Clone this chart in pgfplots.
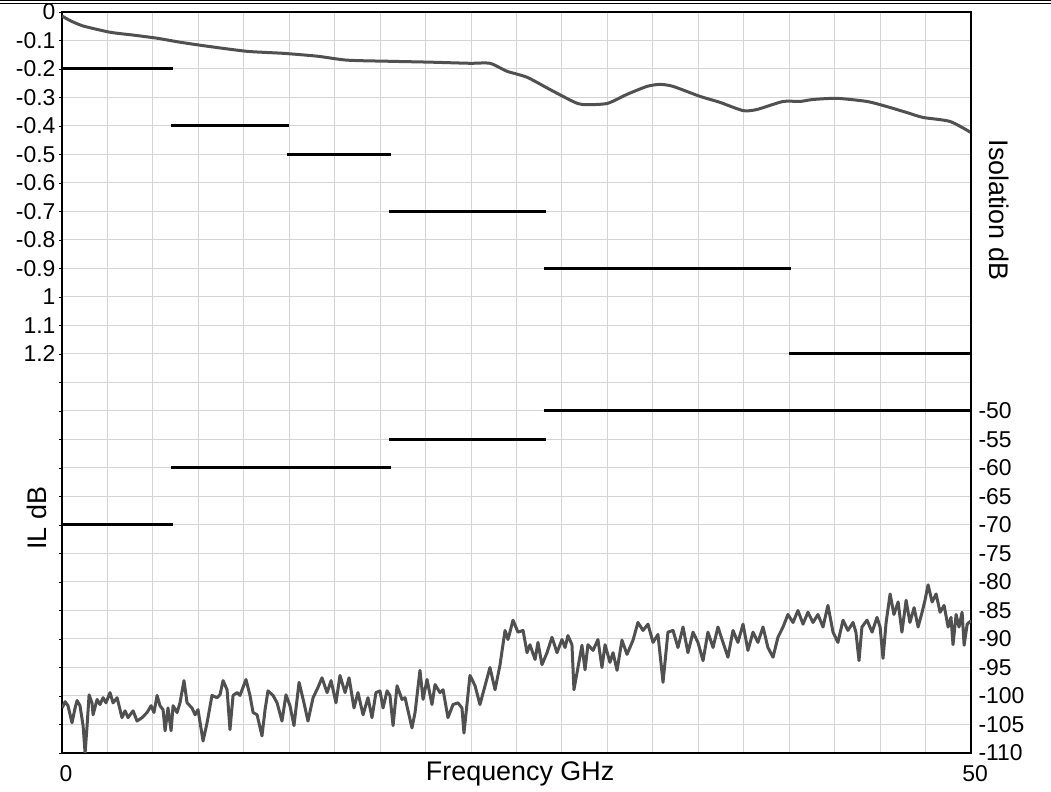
\documentclass[border=0pt]{standalone}
\usepackage{pgfplots}
\pgfplotsset{compat=1.18}
\usepackage{fontspec}
\setmainfont{Liberation Sans}
\definecolor{curve}{RGB}{80,80,80}
\definecolor{gridc}{RGB}{212,212,212}
\begin{document}
\begin{tikzpicture}
\pgfplotsset{
  common/.style={
    at={(62bp,39bp)}, anchor=south west,
    width=909bp, height=741bp, scale only axis,
    xmin=0, xmax=50,
    axis line style={black, line width=2bp},
    tick label style={font=\fontsize{23}{27}\selectfont},
  },
  lim/.style={black, line width=3bp, no marks, forget plot},
  meas/.style={curve, line width=3bp, no marks, line join=round},
}
% ---------- left axis (IL) ----------
\begin{axis}[common,
  ymin=-2.6, ymax=0,
  xtick={0,2.5,5,7.5,10,12.5,15,17.5,20,22.5,25,27.5,30,32.5,35,37.5,40,42.5,45,47.5,50},
  xticklabels={0,{},{},{},{},{},{},{},{},{},{},{},{},{},{},{},{},{},{},{},50},
  xtick style={draw=none},
  xticklabel style={yshift=-6bp, xshift=4bp},
  ytick={-2.6,-2.5,-2.4,-2.3,-2.2,-2.1,-2,-1.9,-1.8,-1.7,-1.6,-1.5,-1.4,-1.3,-1.2,-1.1,-1,-0.9,-0.8,-0.7,-0.6,-0.5,-0.4,-0.3,-0.2,-0.1,0},
  yticklabels={{},{},{},{},{},{},{},{},{},{},{},{},{},{},1.2,1.1,1,-0.9,-0.8,-0.7,-0.6,-0.5,-0.4,-0.3,-0.2,-0.1,0},
  tick pos=left, tick align=outside,
  major tick length=3bp,
  ytick style={black, line width=0.8bp},
  grid=major,
  major grid style={gridc, line width=1bp},
  xlabel={Frequency GHz},
  xlabel style={at={(axis description cs:0.504,0)}, anchor=north, yshift=-5bp,
    font=\fontsize{27}{31}\selectfont},
  extra description/.code={
    \node[rotate=90, font=\fontsize{27}{31}\selectfont] at (axis description cs:-0.0275,0.317) {IL dB};
    \node[rotate=-90, font=\fontsize{27}{31}\selectfont] at (axis description cs:1.031,0.733) {Isolation dB};
  },
]
\addplot[meas, smooth, tension=0.4] coordinates {
(0,-0.014) (0.44,-0.03) (1.16,-0.049) (2.64,-0.071) (3.91,-0.081) (5.23,-0.092)
(6.49,-0.106) (7.98,-0.120) (10.18,-0.138) (12.16,-0.145) (14.03,-0.155) (15.68,-0.169)
(18.04,-0.173) (20.24,-0.176) (22.44,-0.180) (23.54,-0.180) (24.48,-0.208) (25.58,-0.229)
(26.84,-0.272) (28.11,-0.314) (28.66,-0.325) (29.98,-0.321) (31.08,-0.289) (32.18,-0.261)
(32.89,-0.254) (33.61,-0.261) (35.09,-0.296) (36.19,-0.317) (37.46,-0.346) (38.23,-0.342)
(39.66,-0.314) (40.59,-0.314) (41.31,-0.307) (42.63,-0.303) (44.28,-0.314) (45.38,-0.332)
(46.48,-0.353) (47.36,-0.370) (48.84,-0.384) (50,-0.423)
};
\addplot[lim] coordinates {(0,-0.2) (6.1,-0.2)};
\addplot[lim] coordinates {(6,-0.4) (12.5,-0.4)};
\addplot[lim] coordinates {(12.4,-0.5) (18.1,-0.5)};
\addplot[lim] coordinates {(18,-0.7) (26.6,-0.7)};
\addplot[lim] coordinates {(26.5,-0.9) (40.1,-0.9)};
\addplot[lim] coordinates {(40,-1.2) (50,-1.2)};
\end{axis}
% ---------- right axis (Isolation) ----------
\begin{axis}[common,
  ymin=-110, ymax=20,
  axis x line=none, axis y line*=right,
  ytick={-110,-105,-100,-95,-90,-85,-80,-75,-70,-65,-60,-55,-50},
  yticklabels={-110,-105,-100,-95,-90,-85,-80,-75,-70,-65,-60,-55,-50},
  ytick style={draw=none},
  yticklabel style={anchor=west, xshift=4bp},
]
\addplot[meas] coordinates {
(0.00,-102.1) (0.17,-101.0) (0.33,-101.7) (0.55,-104.7) (0.72,-102.1) (0.83,-100.8)
(0.99,-101.7) (1.16,-105.2) (1.27,-110.0) (1.38,-105.2) (1.49,-99.8) (1.65,-101.2)
(1.71,-103.3) (1.93,-100.6) (2.09,-101.5) (2.26,-100.3) (2.42,-101.2) (2.64,-99.4)
(2.81,-101.2) (3.03,-100.3) (3.30,-103.8) (3.47,-102.6) (3.63,-103.8) (3.91,-102.6)
(4.13,-104.4) (4.40,-103.8) (4.68,-102.9) (4.90,-101.7) (5.06,-102.9) (5.23,-99.9)
(5.39,-101.7) (5.56,-102.4) (5.67,-106.1) (5.83,-102.1) (6.00,-106.1) (6.11,-101.7)
(6.33,-102.9) (6.49,-101.2) (6.71,-97.3) (6.88,-101.2) (7.15,-102.1) (7.32,-103.3)
(7.48,-102.4) (7.76,-107.9) (7.98,-104.7) (8.25,-99.9) (8.53,-100.3) (8.69,-99.8)
(8.86,-97.3) (9.08,-98.9) (9.24,-105.9) (9.41,-99.9) (9.63,-99.4) (9.79,-99.9)
(10.12,-97.1) (10.34,-99.9) (10.51,-102.9) (10.73,-103.3) (11.00,-107.0) (11.17,-102.4)
(11.33,-99.1) (11.61,-99.9) (11.83,-101.2) (12.10,-104.4) (12.32,-99.8) (12.54,-101.7)
(12.76,-105.2) (13.04,-97.6) (13.31,-101.2) (13.53,-104.4) (13.81,-100.3) (14.08,-98.5)
(14.30,-96.8) (14.58,-99.4) (14.80,-97.3) (15.07,-101.2) (15.29,-96.4) (15.57,-99.4)
(15.79,-96.8) (16.06,-102.1) (16.28,-99.4) (16.56,-103.3) (16.83,-100.3) (17.05,-103.8)
(17.27,-99.4) (17.49,-99.1) (17.66,-102.1) (17.88,-99.1) (18.04,-99.9) (18.21,-105.2)
(18.43,-98.2) (18.70,-100.6) (18.87,-100.3) (19.25,-105.6) (19.42,-102.9) (19.69,-95.5)
(19.86,-100.6) (20.08,-97.1) (20.35,-101.5) (20.52,-98.0) (20.79,-99.4) (20.96,-98.9)
(21.23,-103.8) (21.51,-101.5) (21.78,-101.2) (22.00,-102.1) (22.11,-106.5) (22.44,-96.4)
(22.72,-98.2) (22.99,-101.5) (23.54,-95.0) (23.82,-98.9) (24.09,-94.6) (24.37,-88.5)
(24.53,-90.1) (24.81,-86.7) (25.08,-88.8) (25.36,-88.5) (25.58,-92.4) (25.74,-91.0)
(26.02,-93.6) (26.18,-90.6) (26.40,-94.5) (26.68,-92.4) (26.95,-89.7) (27.23,-92.4)
(27.50,-90.1) (27.67,-91.5) (27.83,-89.4) (28.05,-91.0) (28.16,-98.9) (28.38,-95.0)
(28.60,-91.1) (28.77,-95.4) (28.93,-91.0) (29.21,-92.0) (29.48,-90.1) (29.70,-95.0)
(29.87,-91.0) (30.14,-94.1) (30.31,-92.4) (30.53,-95.5) (30.80,-90.2) (31.08,-92.7)
(31.41,-90.2) (31.68,-87.1) (31.96,-88.5) (32.23,-87.4) (32.51,-90.6) (32.78,-89.2)
(33.06,-97.6) (33.33,-88.8) (33.61,-88.5) (33.88,-91.5) (34.16,-87.9) (34.43,-92.4)
(34.71,-88.8) (34.98,-90.6) (35.26,-93.8) (35.53,-88.8) (35.81,-91.5) (36.08,-87.9)
(36.36,-90.6) (36.63,-93.2) (36.91,-88.5) (37.18,-90.6) (37.46,-87.4) (37.73,-92.0)
(38.01,-88.8) (38.28,-90.6) (38.56,-87.9) (38.83,-91.5) (39.11,-93.2) (39.38,-89.7)
(39.66,-87.9) (39.93,-85.7) (40.21,-87.1) (40.48,-85.0) (40.76,-87.4) (41.03,-85.3)
(41.31,-87.1) (41.58,-85.7) (41.86,-87.9) (42.13,-84.1) (42.41,-88.8) (42.68,-90.6)
(42.96,-86.7) (43.23,-88.5) (43.51,-87.1) (43.67,-88.8) (43.84,-93.8) (44.00,-87.9)
(44.28,-86.7) (44.56,-88.8) (44.83,-86.2) (45.00,-87.9) (45.16,-93.4) (45.33,-87.1)
(45.55,-82.1) (45.76,-85.7) (45.99,-83.5) (46.20,-88.8) (46.43,-83.2) (46.64,-87.1)
(46.87,-84.5) (47.09,-87.9) (47.31,-85.3) (47.47,-83.2) (47.64,-80.5) (47.86,-83.5)
(48.08,-82.1) (48.30,-85.3) (48.52,-84.1) (48.74,-87.9) (48.90,-86.2) (49.01,-91.0)
(49.18,-85.7) (49.34,-87.9) (49.51,-85.3) (49.62,-91.1) (49.79,-87.4) (50.00,-86.8)
};
\addplot[lim] coordinates {(0,-70) (6.1,-70)};
\addplot[lim] coordinates {(6,-60) (18.1,-60)};
\addplot[lim] coordinates {(18,-55) (26.6,-55)};
\addplot[lim] coordinates {(26.5,-50) (50,-50)};
\end{axis}
\draw[black, line width=1bp] (0,791.5bp) -- (1051bp,791.5bp);
\draw[black, line width=1.3bp] (0,788.8bp) -- (1051bp,788.8bp);
\pgfresetboundingbox
\path[use as bounding box] (0,0) rectangle (1051bp,792bp);
\end{tikzpicture}
\end{document}
